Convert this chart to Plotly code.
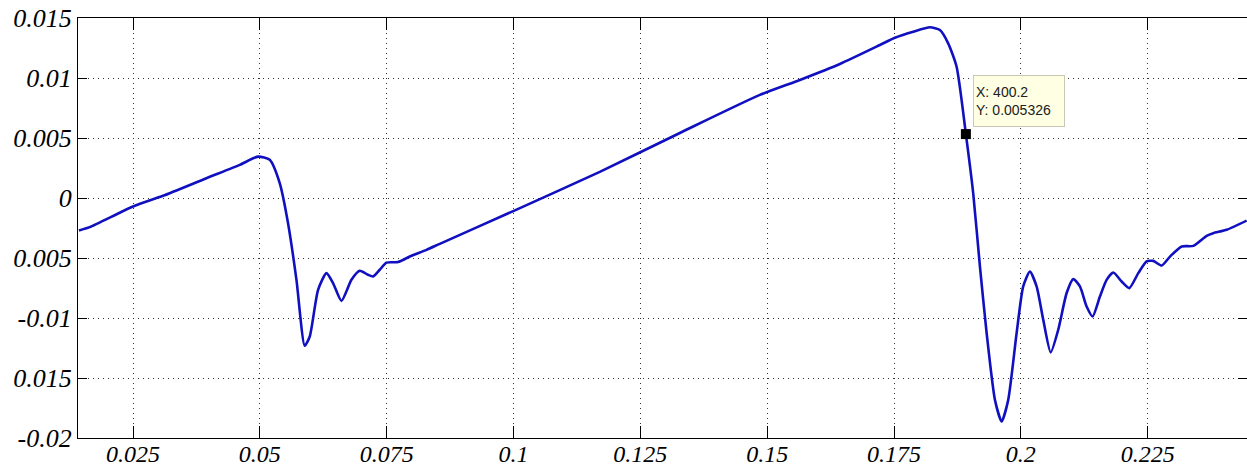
import plotly.graph_objects as go

# ---- data ----
x_vals = [0.01435, 0.01646, 0.02500, 0.03091, 0.03947, 0.04604, 0.04965, 0.05195,
          0.05392, 0.05556, 0.05722, 0.05885, 0.05984, 0.06148, 0.06313, 0.06443,
          0.06609, 0.06806, 0.06970, 0.07133, 0.07232, 0.07364, 0.07496, 0.07725,
          0.07955, 0.08285, 0.08547, 0.10006, 0.11701, 0.13279, 0.14856, 0.15645,
          0.16433, 0.17222, 0.17518, 0.17879, 0.18208, 0.18405, 0.18568, 0.18734,
          0.18917, 0.19061, 0.19194, 0.19326, 0.19489, 0.19622, 0.19752, 0.19917,
          0.20047, 0.20179, 0.20311, 0.20442, 0.20588, 0.20737, 0.20903, 0.21033,
          0.21165, 0.21297, 0.21415, 0.21559, 0.21691, 0.21822, 0.21987, 0.22137,
          0.22315, 0.22480, 0.22611, 0.22776, 0.22940, 0.23171, 0.23399, 0.23663,
          0.23793, 0.24058, 0.24452]
y_vals = [-0.00271, -0.00243, -0.00071, 0.00018, 0.00165, 0.00276, 0.00345, 0.00318,
          0.00124, -0.00210, -0.00682, -0.01231, -0.01154, -0.00765, -0.00626, -0.00709,
          -0.00857, -0.00682, -0.00607, -0.00640, -0.00654, -0.00598, -0.00538, -0.00534,
          -0.00488, -0.00432, -0.00382, -0.00107, 0.00218, 0.00542, 0.00859, 0.00984,
          0.01117, 0.01275, 0.01336, 0.01386, 0.01423, 0.01400, 0.01289, 0.01094,
          0.005326, 0.00040, -0.00571, -0.01126, -0.01681, -0.01862, -0.01681, -0.01126,
          -0.00737, -0.00613, -0.00737, -0.01015, -0.01287, -0.01098, -0.00792, -0.00676,
          -0.00737, -0.00904, -0.00987, -0.00821, -0.00682, -0.00621, -0.00696, -0.00751,
          -0.00626, -0.00529, -0.00524, -0.00563, -0.00488, -0.00404, -0.00399, -0.00315,
          -0.00293, -0.00265, -0.00188]

x_ticks = [0.025, 0.05, 0.075, 0.1, 0.125, 0.15, 0.175, 0.2, 0.225]
x_ticklabels = ["0.025", "0.05", "0.075", "0.1", "0.125", "0.15", "0.175", "0.2", "0.225"]
y_ticks = [-0.02, -0.015, -0.01, -0.005, 0, 0.005, 0.01, 0.015]
y_ticklabels = ["-0.02", "0.015", "-0.01", "0.005", "0", "0.005", "0.01", "0.015"]

tip_x = 0.18917
tip_y = 0.005326
tip_text = "X: 400.2<br>Y: 0.005326"

x_range = [0.01416, 0.24458]
y_range = [-0.02, 0.015]

fig = go.Figure()
fig.add_trace(go.Scatter(
    x=x_vals, y=y_vals, mode="lines",
    line=dict(color="#1010C0", width=2.6, shape="spline", smoothing=0.6),
    hoverinfo="skip", showlegend=False,
))
fig.add_trace(go.Scatter(
    x=[tip_x], y=[tip_y], mode="markers",
    marker=dict(symbol="square", size=10, color="black"),
    hoverinfo="skip", showlegend=False,
))

grid = dict(showgrid=True, gridcolor="#333333", gridwidth=1, griddash="1px,4px",
            zeroline=False, showline=True, linecolor="black", linewidth=1.2,
            mirror="ticks", ticks="inside", tickcolor="black", tickwidth=1.2,
            automargin=False)

fig.update_xaxes(range=x_range, tickvals=x_ticks, ticktext=x_ticklabels,
                 ticklen=12, ticklabelstandoff=-6,
                 tickfont=dict(family="Liberation Serif", size=24, color="black",
                               style="italic"),
                 **grid)
fig.update_yaxes(range=y_range, tickvals=y_ticks, ticktext=y_ticklabels,
                 ticklen=9,
                 tickfont=dict(family="Liberation Serif", size=26, color="black",
                               style="italic"),
                 **grid)

fig.add_annotation(
    x=tip_x, y=tip_y, xref="x", yref="y", text=tip_text, showarrow=False,
    xanchor="left", yanchor="bottom", xshift=7, yshift=7,
    align="left", width=86, height=46, borderpad=2,
    bgcolor="#FFFFE4", bordercolor="#C8C8B4", borderwidth=1,
    font=dict(family="Liberation Sans", size=14, color="#202020"),
)

fig.update_layout(
    width=1247, height=471,
    margin=dict(l=78, r=0, t=18, b=33),
    paper_bgcolor="white", plot_bgcolor="white",
)

fig.write_html("out.html")
